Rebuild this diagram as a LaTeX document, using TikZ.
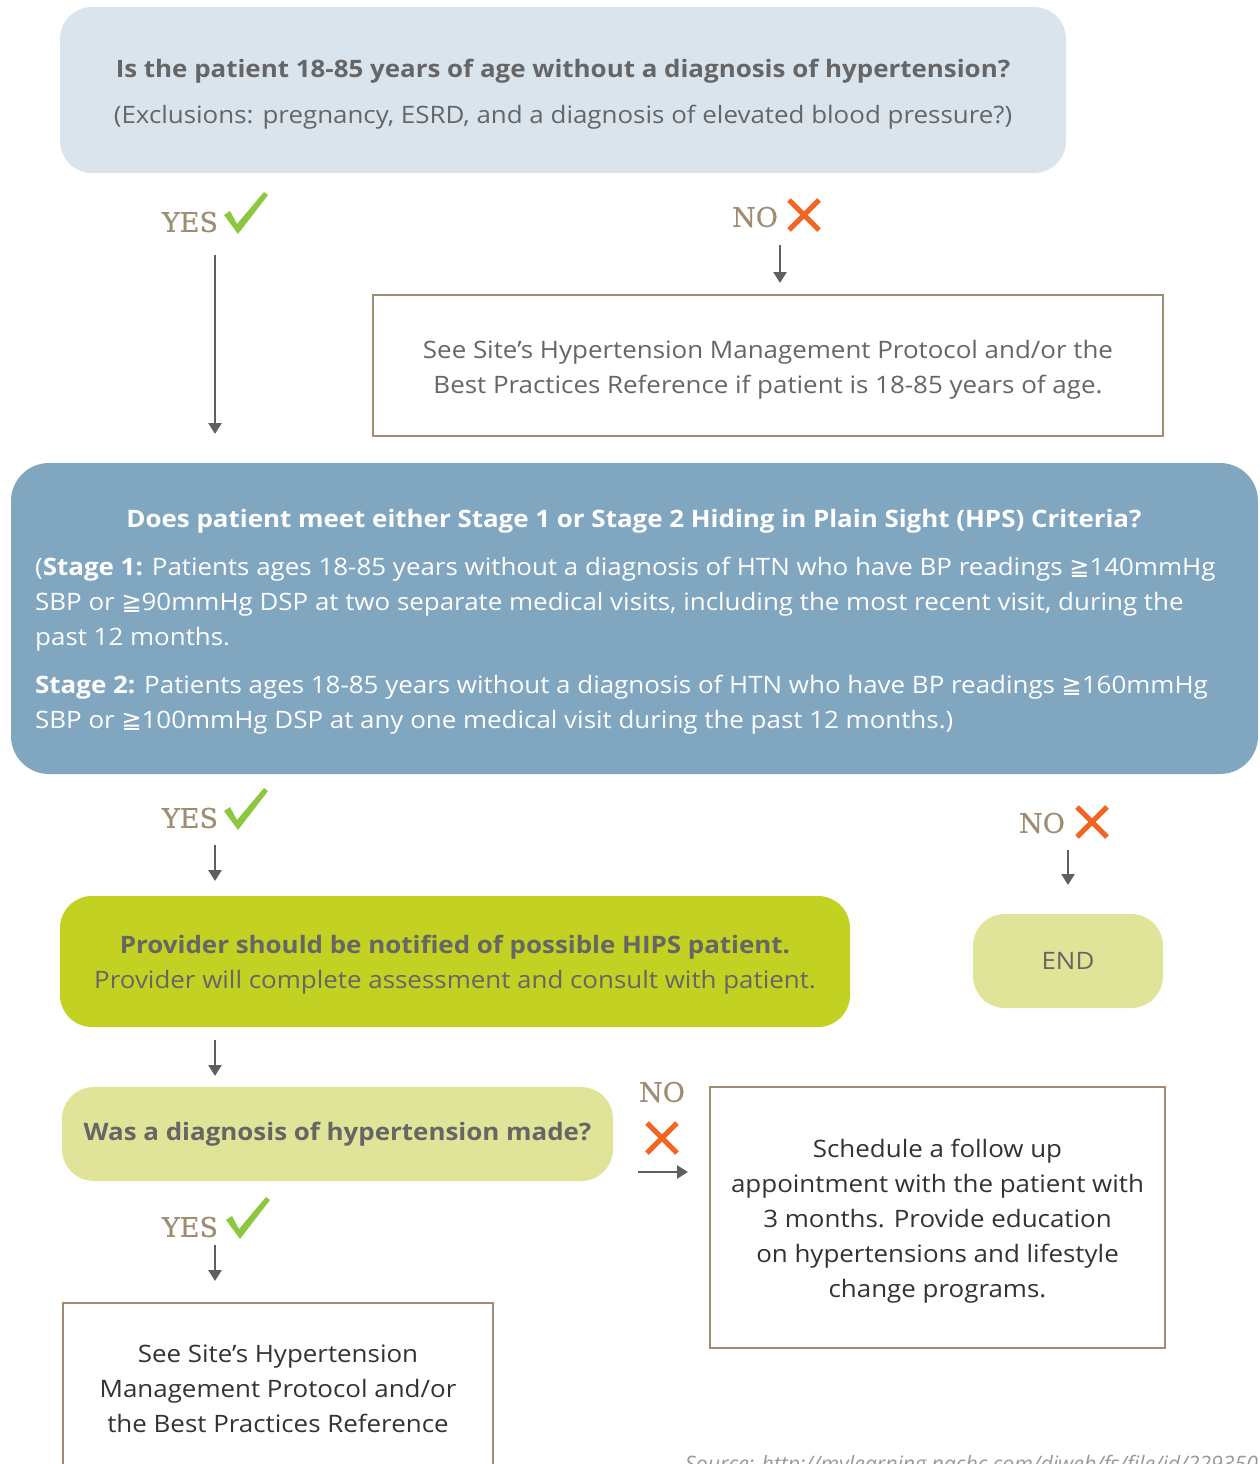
\documentclass[tikz,border=0pt]{standalone}
\usepackage{fontspec}
\setmainfont{Open Sans}[FakeStretch=1.08]
\newfontfamily\srcfont{Open Sans}
\newfontfamily\slab{DejaVu Serif}[FakeBold=0.7]
\newfontfamily\symf{DejaVu Sans}
\usetikzlibrary{arrows.meta}
\definecolor{topbg}{HTML}{DAE4EC}
\definecolor{bluebox}{HTML}{80A6C0}
\definecolor{limebox}{HTML}{C2D122}
\definecolor{palebox}{HTML}{DFE498}
\definecolor{brownline}{HTML}{9E8D72}
\definecolor{graytext}{HTML}{666666}
\definecolor{darktext}{HTML}{333333}
\definecolor{yesgreen}{HTML}{8DC63F}
\definecolor{noorange}{HTML}{F26522}
\definecolor{arrowgray}{HTML}{5F5F5F}
\newcommand{\gequ}{{\symf ≧}}
\begin{document}
\begin{tikzpicture}[x=1pt,y=-1pt,
  roundbox/.style={rounded corners=32pt, inner sep=0pt, draw=none},
  linebox/.style={draw=brownline, line width=2.8pt, inner sep=0pt, fill=white},
  yeslabel/.style={text=brownline, font=\slab\fontsize{27}{30}\selectfont, inner sep=0pt},
  flow/.style={draw=arrowgray, line width=2.5pt, -{Triangle[width=13pt,length=11pt]}},
  chk/.pic={\fill[yesgreen] (-10,-8) -- (-4,-12) -- (3,1) -- (30,-31) -- (34,-28) -- (4,11) -- cycle;},
  crs/.pic={\draw[noorange, line width=5pt] (-15,-15) -- (15,15) (-15,15) -- (15,-15);}
]
\useasboundingbox (0,0) rectangle (1260,1464);

% top question
\node[roundbox, fill=topbg, minimum width=1006pt, minimum height=166pt] (q1) at (563,90) {};
\node[text=graytext, align=center, font=\fontsize{24}{46}\selectfont] (q1t) at (563,94)
  {\textbf{Is the patient 18-85 years of age without a diagnosis of hypertension?}\\
   (Exclusions: pregnancy, ESRD, and a diagnosis of elevated blood pressure?)};

% YES / NO 1
\node[yeslabel] (yes1) at (190,222) {YES};
\pic at (234,223) {chk};
\node[yeslabel] (no1) at (755,217) {NO};
\pic at (804,215) {crs};
\coordinate (y1a) at (215,255);
\coordinate (y1b) at (215,434);
\coordinate (n1a) at (780,245);
\coordinate (n1b) at (780,283);
\draw[flow] (y1a) -- (y1b);
\draw[flow] (n1a) -- (n1b);

% box 2
\node[linebox, minimum width=790pt, minimum height=141pt] (b2) at (768,365.5) {};
\node[text=graytext, align=center, font=\fontsize{24}{35}\selectfont] (b2t) at (768,370)
  {See Site's Hypertension Management Protocol and/or the\\
   Best Practices Reference if patient is 18-85 years of age.};

% criteria box
\node[roundbox, rounded corners=38pt, fill=bluebox, minimum width=1247pt, minimum height=311pt] (b3) at (634.5,618.5) {};
\node[text=white, font=\bfseries\fontsize{24}{30}\selectfont] (b3h) at (634,521)
  {Does patient meet either Stage 1 or Stage 2 Hiding in Plain Sight (HPS) Criteria?};
\node[text=white, anchor=north west, align=left, inner sep=0pt, font=\fontsize{24}{35}\selectfont] (b3s1) at (35,557)
  {(\textbf{Stage 1:} Patients ages 18-85 years without a diagnosis of HTN who have BP readings \gequ140mmHg\\
   SBP or \gequ90mmHg DSP at two separate medical visits, including the most recent visit, during the\\
   past 12 months.};
\node[text=white, anchor=north west, align=left, inner sep=0pt, font=\fontsize{24}{35}\selectfont] (b3s2) at (35,675)
  {\textbf{Stage 2:} Patients ages 18-85 years without a diagnosis of HTN who have BP readings \gequ160mmHg\\
   SBP or \gequ100mmHg DSP at any one medical visit during the past 12 months.)};

% YES / NO 2
\node[yeslabel] (yes2) at (190,818) {YES};
\pic at (234,819) {chk};
\node[yeslabel] (no2) at (1042,823) {NO};
\pic at (1092,822) {crs};
\coordinate (y2a) at (215,845);
\coordinate (y2b) at (215,881);
\coordinate (n2a) at (1068,850);
\coordinate (n2b) at (1068,885);
\draw[flow] (y2a) -- (y2b);
\draw[flow] (n2a) -- (n2b);

% provider box
\node[roundbox, fill=limebox, minimum width=790pt, minimum height=131pt] (b4) at (455,961.5) {};
\node[text=graytext, align=center, font=\fontsize{24}{35}\selectfont] (b4t) at (455,965)
  {\textbf{Provider should be notified of possible HIPS patient.}\\
   Provider will complete assessment and consult with patient.};

% END
\node[roundbox, fill=palebox, minimum width=190pt, minimum height=94pt, text=graytext, font=\fontsize{24}{30}\selectfont] (end) at (1068,961) {\raisebox{-3pt}{END}};

\coordinate (p4a) at (215,1040);
\coordinate (p4b) at (215,1076);
\draw[flow] (p4a) -- (p4b);

% diagnosis box
\node[roundbox, fill=palebox, minimum width=551pt, minimum height=94pt, text=graytext, font=\bfseries\fontsize{24}{30}\selectfont] (b5) at (337.5,1134) {\raisebox{-5pt}{Was a diagnosis of hypertension made?}};

% NO 3
\node[yeslabel] (no3) at (662,1092) {NO};
\pic at (662,1138) {crs};
\coordinate (n3a) at (638,1172);
\coordinate (n3b) at (688,1172);
\draw[flow] (n3a) -- (n3b);

% follow-up box
\node[linebox, minimum width=455pt, minimum height=261pt] (b6) at (937.5,1217.5) {};
\node[text=darktext, align=center, font=\fontsize{24}{35}\selectfont] (b6t) at (937.5,1221)
  {Schedule a follow up\\ appointment with the patient with\\ 3 months. Provide education\\ on hypertensions and lifestyle\\ change programs.};

% YES 3
\node[yeslabel] (yes3) at (190,1227) {YES};
\pic at (236,1228) {chk};
\coordinate (y3a) at (215,1245);
\coordinate (y3b) at (215,1281);
\draw[flow] (y3a) -- (y3b);

% bottom box
\node[linebox, minimum width=430pt, minimum height=220pt] (b7) at (278,1413) {};
\node[text=darktext, align=center, font=\fontsize{24}{35}\selectfont] (b7t) at (278,1389)
  {See Site's Hypertension\\ Management Protocol and/or\\ the Best Practices Reference};

% source
\node[anchor=base west, text=black!40, font=\srcfont\itshape\fontsize{21.3}{24}\selectfont, inner sep=0pt] (src) at (685,1471)
  {Source: http://mylearning.nachc.com/diweb/fs/file/id/229350};
\end{tikzpicture}
\end{document}
